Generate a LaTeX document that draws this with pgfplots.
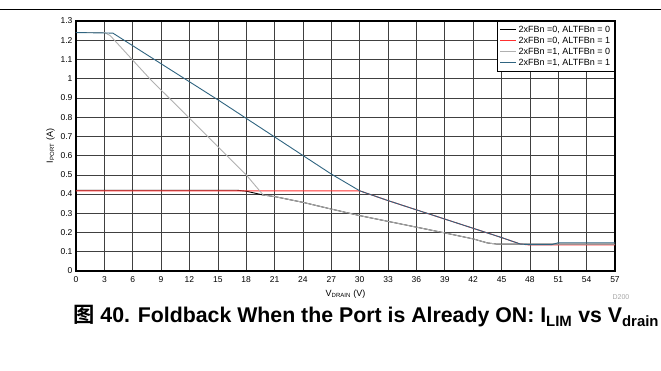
\documentclass[border=0pt]{standalone}
\usepackage{pgfplots}
\pgfplotsset{compat=1.18}
\usepackage{fontspec}
\setmainfont{Liberation Sans}
\newfontfamily\cjk{Noto Sans CJK SC}[BoldFont={* Bold}]

\definecolor{tiblue}{HTML}{2F6480}
\definecolor{tired}{HTML}{FF3030}
\definecolor{tigray}{HTML}{B0B0B0}

\begin{document}
\begin{tikzpicture}
\path[use as bounding box] (-76pt,-100pt) rectangle (585pt,271pt);
\draw[line width=1pt] (-76pt,261pt) -- (585pt,261pt);
\begin{axis}[
    at={(0,0)}, anchor=south west,
    scale only axis,
    width=539pt, height=250pt,
    xmin=0, xmax=57, ymin=0, ymax=1.3,
    xtick={0,3,...,57},
    ytick={0,0.1,...,1.3},
    yticklabel style={/pgf/number format/.cd,fixed,precision=1},
    /pgf/number format/assume math mode=true,
    tick label style={font=\fontsize{8.5}{9}\selectfont},
    xticklabel style={yshift=-2pt},
    major tick length=0pt,
    axis line style={line width=1.3pt},
    grid=major,
    grid style={black!75, line width=0.6pt},
    xlabel={V\textsubscript{DRAIN} (V)},
    ylabel={I\textsubscript{PORT} (A)},
    label style={font=\fontsize{9}{10}\selectfont},
    xlabel style={at={(axis description cs:0.5,-0.092)}, anchor=center},
    ylabel style={at={(axis description cs:-0.047,0.5)}, anchor=center},
    legend style={at={(1,1)}, anchor=north east, font=\fontsize{9}{9}\selectfont,
        draw=black, line width=0.8pt, inner sep=2.5pt, row sep=-0.8pt,
        cells={anchor=west}},
    legend image code/.code={\draw[#1, line width=0.8pt] (0pt,0pt) -- (16pt,0pt);},
    every axis plot/.append style={line width=0.9pt},
]
% 2xFBn=0, ALTFBn=0
\addplot[black] coordinates {
    (0,0.42) (17,0.42) (18,0.415) (19.8,0.395) (21,0.387) (24,0.357) (27,0.322)
    (30,0.288) (33,0.258) (36,0.228) (39,0.198) (42,0.167) (43.5,0.146)
    (44.5,0.14) (57,0.14)
};
\addlegendentry{2xFBn =0, ALTFBn = 0}
% 2xFBn=0, ALTFBn=1
\addplot[tired] coordinates {
    (0,0.417) (30,0.417) (33,0.366) (36,0.318) (39,0.27) (42,0.222) (45,0.174)
    (47,0.14) (48,0.135) (57,0.135)
};
\addlegendentry{2xFBn =0, ALTFBn = 1}
% 2xFBn=1, ALTFBn=0
\addplot[tigray] coordinates {
    (0,1.24) (3,1.24) (3.6,1.225) (7.8,1.0) (18,0.5) (19.8,0.395) (21,0.387)
    (24,0.357) (27,0.322) (30,0.288) (33,0.258) (36,0.228) (39,0.198)
    (42,0.167) (43.5,0.146) (44.5,0.14) (57,0.14)
};
\addlegendentry{2xFBn =1, ALTFBn = 0}
% 2xFBn=1, ALTFBn=1
\addplot[tiblue] coordinates {
    (0,1.24) (3.9,1.237) (15.2,0.884) (27,0.504) (30,0.417) (33,0.366)
    (36,0.318) (39,0.27) (42,0.222) (45,0.174) (47,0.14) (48,0.137)
    (50.3,0.137) (51,0.147) (57,0.147)
};
\addlegendentry{2xFBn =1, ALTFBn = 1}
\end{axis}
\node[font=\fontsize{7}{8}\selectfont, text=black!35] at (545pt,-26pt) {D200};
\node[font=\bfseries\fontsize{21.3}{23}\selectfont, anchor=base west, inner sep=0pt] at (-3pt,-52pt)
    {{\cjk\bfseries 图} 40. Foldback When the Port is Already ON: I\textsubscript{LIM} vs V\textsubscript{drain}};
\end{tikzpicture}
\end{document}
